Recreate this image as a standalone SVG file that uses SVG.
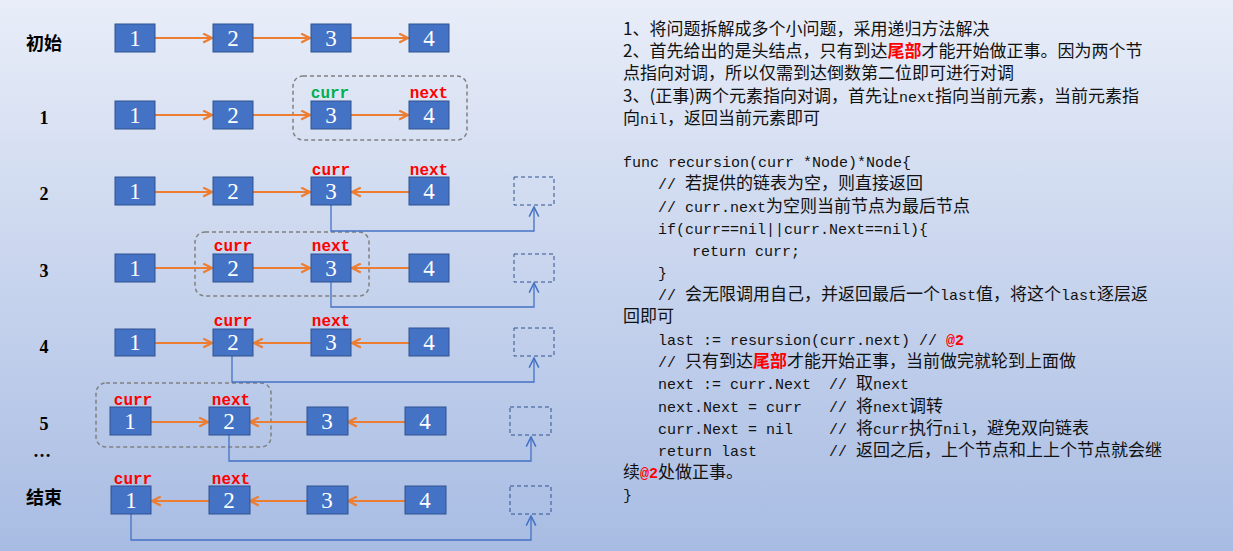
<svg xmlns="http://www.w3.org/2000/svg" width="1233" height="551" viewBox="0 0 1233 551">
<defs>
<linearGradient id="bg" x1="0" y1="0" x2="0" y2="1"><stop offset="0" stop-color="#e8edf8"/><stop offset="1" stop-color="#a8bce3"/></linearGradient>
<marker id="oa" viewBox="0 0 10 10" refX="9" refY="5" markerWidth="11" markerHeight="11" markerUnits="userSpaceOnUse" orient="auto"><path d="M1,1 L9,5 L1,9" fill="none" stroke="#ed7d31" stroke-width="2"/></marker>
<marker id="ba" viewBox="0 0 10 10" refX="9" refY="5" markerWidth="12" markerHeight="12" markerUnits="userSpaceOnUse" orient="auto"><path d="M1,1 L9,5 L1,9" fill="none" stroke="#4472c4" stroke-width="1.3"/></marker>
<style>
.n rect{fill:#4472c4;stroke:#2f528f;stroke-width:1}
.n text{fill:#fff;font-family:"Liberation Serif",serif;font-size:23px;text-anchor:middle}
.n rect.d{fill:none;stroke:#2f528f;stroke-dasharray:4 3;stroke-width:1}
.g{fill:none;stroke:#808080;stroke-dasharray:4 3;stroke-width:1.5}
.o{stroke:#ed7d31;stroke-width:2.2;fill:none;marker-end:url(#oa)}
.b{stroke:#4472c4;stroke-width:1.3;fill:none;marker-end:url(#ba)}
.lb{font-family:"Liberation Serif","Noto Sans CJK SC",serif;font-size:18px;font-weight:bold;text-anchor:middle;fill:#000}
.cr{font-family:"Liberation Mono",monospace;font-size:16px;font-weight:bold;text-anchor:middle;fill:#f00}
.t{font-family:"Noto Sans CJK SC",sans-serif;font-size:17px;fill:#111;white-space:pre}
.m{font-family:"Liberation Mono",monospace;font-size:15px}
.r{fill:#f00;font-weight:bold}
</style>
</defs>
<rect width="1233" height="551" fill="url(#bg)"/>

<g id="labels">
<text class="lb" x="44" y="50">初始</text>
<text class="lb" x="44" y="124">1</text>
<text class="lb" x="44" y="200">2</text>
<text class="lb" x="44" y="277">3</text>
<text class="lb" x="44" y="353">4</text>
<text class="lb" x="44" y="430">5</text>
<text class="lb" x="42" y="457">…</text>
<text class="lb" x="44" y="504">结束</text>
</g>

<g id="groups">
<rect class="g" x="293" y="76" width="174" height="64" rx="10"/>
<rect class="g" x="195" y="232" width="174" height="64" rx="10"/>
<rect class="g" x="96" y="383" width="175" height="64" rx="10"/>
</g>

<g id="connectors">
<line class="o" x1="155" y1="38" x2="212" y2="38"/><line class="o" x1="253" y1="38" x2="310" y2="38"/><line class="o" x1="351" y1="38" x2="408" y2="38"/>
<line class="o" x1="155" y1="115" x2="212" y2="115"/><line class="o" x1="253" y1="115" x2="310" y2="115"/><line class="o" x1="351" y1="115" x2="408" y2="115"/>
<line class="o" x1="155" y1="192" x2="212" y2="192"/><line class="o" x1="253" y1="192" x2="310" y2="192"/><line class="o" x1="409" y1="192" x2="352" y2="192"/>
<line class="o" x1="155" y1="268" x2="212" y2="268"/><line class="o" x1="253" y1="268" x2="310" y2="268"/><line class="o" x1="409" y1="268" x2="352" y2="268"/>
<line class="o" x1="155" y1="343" x2="212" y2="343"/><line class="o" x1="311" y1="343" x2="254" y2="343"/><line class="o" x1="409" y1="343" x2="352" y2="343"/>
<line class="o" x1="151" y1="422" x2="208" y2="422"/><line class="o" x1="307" y1="422" x2="250" y2="422"/><line class="o" x1="405" y1="422" x2="348" y2="422"/>
<line class="o" x1="209" y1="501" x2="152" y2="501"/><line class="o" x1="307" y1="501" x2="250" y2="501"/><line class="o" x1="405" y1="501" x2="348" y2="501"/>
<polyline class="b" points="331,205 331,231 534,231 534,207"/>
<polyline class="b" points="331,282 331,307 534,307 534,283"/>
<polyline class="b" points="232,356 232,382 534,382 534,358"/>
<polyline class="b" points="229,435 229,461 531,461 531,437"/>
<polyline class="b" points="131,514 131,540 531,540 531,516"/>
</g>

<g id="row0" class="n">
<rect x="115" y="24" width="40" height="28"/><text x="135" y="46">1</text>
<rect x="213" y="24" width="40" height="28"/><text x="233" y="46">2</text>
<rect x="311" y="24" width="40" height="28"/><text x="331" y="46">3</text>
<rect x="409" y="24" width="40" height="28"/><text x="429" y="46">4</text>
</g>
<g id="row1" class="n">
<rect x="115" y="101" width="40" height="28"/><text x="135" y="123">1</text>
<rect x="213" y="101" width="40" height="28"/><text x="233" y="123">2</text>
<rect x="311" y="101" width="40" height="28"/><text x="331" y="123">3</text>
<rect x="409" y="101" width="40" height="28"/><text x="429" y="123">4</text>
</g>
<g id="row2" class="n">
<rect x="115" y="177" width="40" height="28"/><text x="135" y="199">1</text>
<rect x="213" y="177" width="40" height="28"/><text x="233" y="199">2</text>
<rect x="311" y="177" width="40" height="28"/><text x="331" y="199">3</text>
<rect x="409" y="177" width="40" height="28"/><text x="429" y="199">4</text>
<rect class="d" x="514" y="177" width="40" height="28"/>
</g>
<g id="row3" class="n">
<rect x="115" y="254" width="40" height="28"/><text x="135" y="276">1</text>
<rect x="213" y="254" width="40" height="28"/><text x="233" y="276">2</text>
<rect x="311" y="254" width="40" height="28"/><text x="331" y="276">3</text>
<rect x="409" y="254" width="40" height="28"/><text x="429" y="276">4</text>
<rect class="d" x="514" y="254" width="40" height="28"/>
</g>
<g id="row4" class="n">
<rect x="115" y="329" width="40" height="27"/><text x="135" y="350">1</text>
<rect x="213" y="329" width="40" height="27"/><text x="233" y="350">2</text>
<rect x="311" y="329" width="40" height="27"/><text x="331" y="350">3</text>
<rect x="409" y="328" width="40" height="28"/><text x="429" y="350">4</text>
<rect class="d" x="514" y="328" width="40" height="28"/>
</g>
<g id="row5" class="n">
<rect x="110" y="407" width="41" height="28"/><text x="130" y="429">1</text>
<rect x="209" y="407" width="41" height="28"/><text x="229" y="429">2</text>
<rect x="307" y="407" width="41" height="28"/><text x="327" y="429">3</text>
<rect x="405" y="407" width="41" height="28"/><text x="425" y="429">4</text>
<rect class="d" x="510" y="407" width="41" height="28"/>
</g>
<g id="rowEnd" class="n">
<rect x="111" y="486" width="40" height="28"/><text x="131" y="508">1</text>
<rect x="209" y="486" width="41" height="28"/><text x="229" y="508">2</text>
<rect x="307" y="486" width="41" height="28"/><text x="327" y="508">3</text>
<rect x="405" y="486" width="41" height="28"/><text x="425" y="508">4</text>
<rect class="d" x="510" y="486" width="41" height="28"/>
</g>

<g id="pointers">
<text class="cr" x="330" y="98" style="fill:#00b050">curr</text><text class="cr" x="429" y="98">next</text>
<text class="cr" x="331" y="175">curr</text><text class="cr" x="429" y="175">next</text>
<text class="cr" x="233" y="251">curr</text><text class="cr" x="331" y="251">next</text>
<text class="cr" x="233" y="326">curr</text><text class="cr" x="331" y="326">next</text>
<text class="cr" x="133" y="405">curr</text><text class="cr" x="231" y="405">next</text>
<text class="cr" x="133" y="484">curr</text><text class="cr" x="231" y="484">next</text>
</g>

<g id="notes" class="t">
<text x="623" y="35">1、将问题拆解成多个小问题，采用递归方法解决</text>
<text x="623" y="57">2、首先给出的是头结点，只有到达<tspan class="r">尾部</tspan>才能开始做正事。因为两个节</text>
<text x="623" y="79">点指向对调，所以仅需到达倒数第二位即可进行对调</text>
<text x="623" y="102">3、(正事)两个元素指向对调，首先让<tspan class="m">next</tspan>指向当前元素，当前元素指</text>
<text x="623" y="124">向<tspan class="m">nil</tspan>，返回当前元素即可</text>
<text x="623" y="167" class="m" xml:space="preserve">func recursion(curr *Node)*Node{</text>
<text x="658" y="189" xml:space="preserve"><tspan class="m">// </tspan>若提供的链表为空，则直接返回</text>
<text x="658" y="212" xml:space="preserve"><tspan class="m">// curr.next</tspan>为空则当前节点为最后节点</text>
<text x="658" y="234" class="m">if(curr==nil||curr.Next==nil){</text>
<text x="692" y="256" class="m" xml:space="preserve">return curr;</text>
<text x="658" y="278" class="m">}</text>
<text x="658" y="300" xml:space="preserve"><tspan class="m">// </tspan>会无限调用自己，并返回最后一个<tspan class="m">last</tspan>值，将这个<tspan class="m">last</tspan>逐层返</text>
<text x="623" y="322">回即可</text>
<text x="658" y="345" class="m" xml:space="preserve">last := resursion(curr.next) // <tspan class="r">@2</tspan></text>
<text x="658" y="367" xml:space="preserve"><tspan class="m">// </tspan>只有到达<tspan class="r">尾部</tspan>才能开始正事，当前做完就轮到上面做</text>
<text x="658" y="389" xml:space="preserve"><tspan class="m">next := curr.Next  // </tspan>取<tspan class="m">next</tspan></text>
<text x="658" y="412" xml:space="preserve"><tspan class="m">next.Next = curr   // </tspan>将<tspan class="m">next</tspan>调转</text>
<text x="658" y="434" xml:space="preserve"><tspan class="m">curr.Next = nil    // </tspan>将<tspan class="m">curr</tspan>执行<tspan class="m">nil</tspan>，避免双向链表</text>
<text x="658" y="456" xml:space="preserve"><tspan class="m">return last        // </tspan>返回之后，上个节点和上上个节点就会继</text>
<text x="623" y="478">续<tspan class="m r">@2</tspan>处做正事。</text>
<text x="623" y="500" class="m">}</text>
</g>
</svg>
